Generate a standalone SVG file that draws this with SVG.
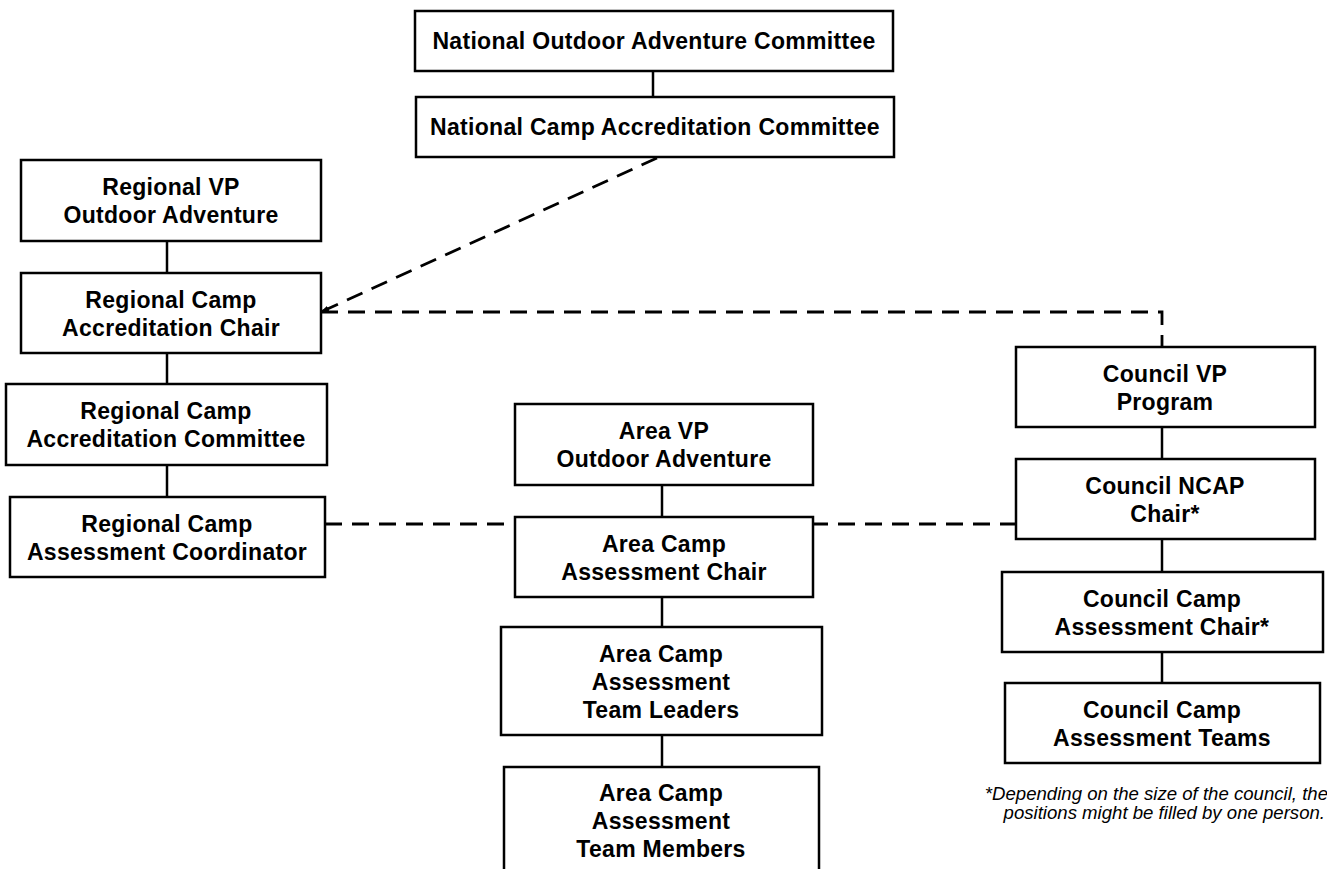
<svg xmlns="http://www.w3.org/2000/svg" width="1327" height="869" viewBox="0 0 1327 869">
<style>
.box{fill:#fff;stroke:#000;stroke-width:2.5}
.lbl{font-family:"Liberation Sans",Arial,sans-serif;font-weight:bold;font-size:23px;letter-spacing:0.3px;text-anchor:middle;fill:#000}
.solid{fill:none;stroke:#000;stroke-width:2.5}
.dash{fill:none;stroke:#000;stroke-width:2.8;stroke-dasharray:17 10}
.note{font-family:"Liberation Sans",Arial,sans-serif;font-style:italic;font-size:18.6px;text-anchor:end;fill:#000}
</style>
<defs>
<marker id="arr" markerWidth="9" markerHeight="6" refX="8" refY="3" orient="auto" markerUnits="userSpaceOnUse">
<path d="M0,0 L9,3 L0,6 z" fill="#000"/>
</marker>
</defs>
<rect width="1327" height="869" fill="#fff"/>
<g id="connectors">
<line class="solid" x1="653" y1="71" x2="653" y2="97"/>
<line class="solid" x1="167" y1="241" x2="167" y2="273"/>
<line class="solid" x1="167" y1="353" x2="167" y2="384"/>
<line class="solid" x1="167" y1="465" x2="167" y2="497"/>
<line class="solid" x1="662" y1="485" x2="662" y2="517"/>
<line class="solid" x1="662" y1="597" x2="662" y2="627"/>
<line class="solid" x1="662" y1="735" x2="662" y2="767"/>
<line class="solid" x1="1162" y1="427" x2="1162" y2="459"/>
<line class="solid" x1="1162" y1="539" x2="1162" y2="572"/>
<line class="solid" x1="1162" y1="652" x2="1162" y2="683"/>
<line class="dash" x1="657" y1="158" x2="321" y2="312" marker-end="url(#arr)"/>
<path class="dash" d="M321,312 H1162 V347"/>
<line class="dash" x1="325" y1="524" x2="1016" y2="524"/>
</g>
<g id="n1"><rect class="box" x="415" y="11" width="478" height="60"/><text class="lbl" x="654" y="49">National Outdoor Adventure Committee</text></g>
<g id="n2"><rect class="box" x="416" y="97" width="478" height="60"/><text class="lbl" x="655" y="135">National Camp Accreditation Committee</text></g>
<g id="n3"><rect class="box" x="21" y="160" width="300" height="81"/><text class="lbl" x="171" y="195">Regional VP</text><text class="lbl" x="171" y="223">Outdoor Adventure</text></g>
<g id="n4"><rect class="box" x="21" y="273" width="300" height="80"/><text class="lbl" x="171" y="308">Regional Camp</text><text class="lbl" x="171" y="336">Accreditation Chair</text></g>
<g id="n5"><rect class="box" x="6" y="384" width="321" height="81"/><text class="lbl" x="166" y="419">Regional Camp</text><text class="lbl" x="166" y="447">Accreditation Committee</text></g>
<g id="n6"><rect class="box" x="10" y="497" width="315" height="80"/><text class="lbl" x="167" y="532">Regional Camp</text><text class="lbl" x="167" y="560">Assessment Coordinator</text></g>
<g id="n7"><rect class="box" x="515" y="404" width="298" height="81"/><text class="lbl" x="664" y="439">Area VP</text><text class="lbl" x="664" y="467">Outdoor Adventure</text></g>
<g id="n8"><rect class="box" x="515" y="517" width="298" height="80"/><text class="lbl" x="664" y="552">Area Camp</text><text class="lbl" x="664" y="580">Assessment Chair</text></g>
<g id="n9"><rect class="box" x="501" y="627" width="321" height="108"/><text class="lbl" x="661" y="662">Area Camp</text><text class="lbl" x="661" y="690">Assessment</text><text class="lbl" x="661" y="718">Team Leaders</text></g>
<g id="n10"><rect class="box" x="504" y="767" width="315" height="112"/><text class="lbl" x="661" y="801">Area Camp</text><text class="lbl" x="661" y="829">Assessment</text><text class="lbl" x="661" y="857">Team Members</text></g>
<g id="n11"><rect class="box" x="1016" y="347" width="299" height="80"/><text class="lbl" x="1165" y="382">Council VP</text><text class="lbl" x="1165" y="410">Program</text></g>
<g id="n12"><rect class="box" x="1016" y="459" width="299" height="80"/><text class="lbl" x="1165" y="494">Council NCAP</text><text class="lbl" x="1165" y="522">Chair*</text></g>
<g id="n13"><rect class="box" x="1002" y="572" width="321" height="80"/><text class="lbl" x="1162" y="607">Council Camp</text><text class="lbl" x="1162" y="635">Assessment Chair*</text></g>
<g id="n14"><rect class="box" x="1005" y="683" width="315" height="80"/><text class="lbl" x="1162" y="718">Council Camp</text><text class="lbl" x="1162" y="746">Assessment Teams</text></g>
<g id="footnote"><text class="note" x="1328" y="800">*Depending on the size of the council, the</text><text class="note" x="1325" y="819">positions might be filled by one person.</text></g>
</svg>
